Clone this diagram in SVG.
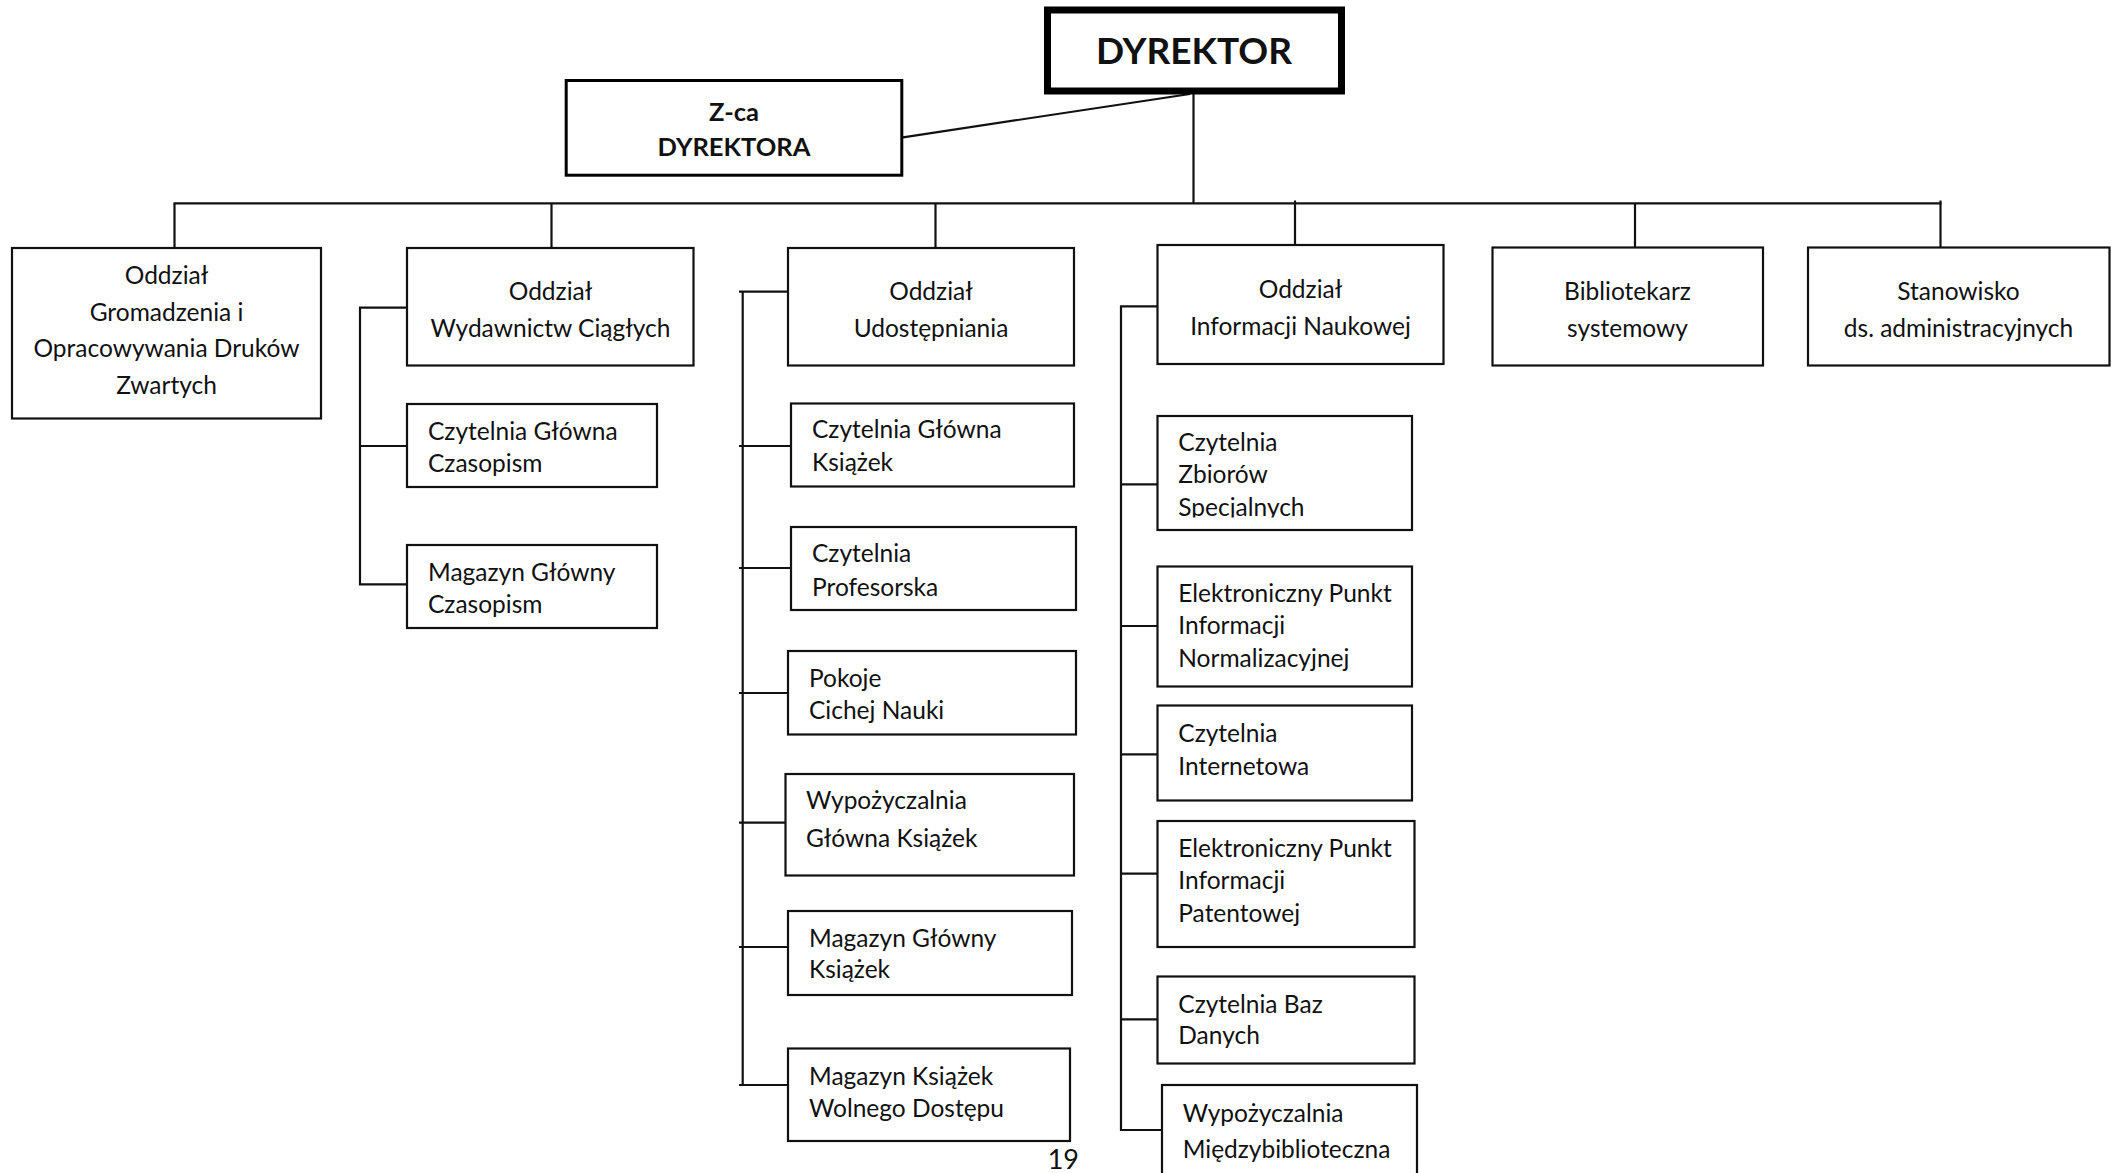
<svg xmlns="http://www.w3.org/2000/svg" width="2114" height="1173" viewBox="0 0 2114 1173">
<style>
.bg{fill:#ffffff}
.box{fill:#ffffff;stroke:#111;stroke-width:2.2}
.t{font-family:Lato,"Open Sans","Liberation Sans",sans-serif;font-size:24.5px;fill:#111}
.c{text-anchor:middle}
.b{font-weight:bold}
.ln{fill:none;stroke:#111;stroke-width:2.2}
</style>
<defs>
<clipPath id="clipZb"><rect x="1158" y="417" width="252" height="100.5"/></clipPath>
</defs>
<rect class="bg" x="0" y="0" width="2114" height="1173"/>

<g id="connectors">
<line class="ln" x1="903" y1="137.3" x2="1190" y2="94" stroke-width="2.6"/>
<line class="ln" x1="1193.5" y1="94" x2="1193.5" y2="203.3" stroke-width="1.6"/>
<line class="ln" x1="173.5" y1="203.3" x2="1941.5" y2="203.3"/>
<line class="ln" x1="174.5" y1="203.3" x2="174.5" y2="248"/>
<line class="ln" x1="551.5" y1="203.3" x2="551.5" y2="248"/>
<line class="ln" x1="935.5" y1="203.3" x2="935.5" y2="248"/>
<line class="ln" x1="1295" y1="200.5" x2="1295" y2="245"/>
<line class="ln" x1="1635" y1="203.3" x2="1635" y2="248"/>
<line class="ln" x1="1940.5" y1="200.5" x2="1940.5" y2="248"/>
<!-- Wydawnictw bracket -->
<polyline class="ln" points="407,307.7 360,307.7 360,584.3 407,584.3"/>
<line class="ln" x1="360" y1="446" x2="407" y2="446"/>
<!-- Udostepniania bracket -->
<line class="ln" x1="742.7" y1="291.7" x2="742.7" y2="1085"/>
<line class="ln" x1="739" y1="291.7" x2="788" y2="291.7"/>
<line class="ln" x1="739" y1="446" x2="791" y2="446"/>
<line class="ln" x1="739" y1="568" x2="791" y2="568"/>
<line class="ln" x1="739" y1="693" x2="788" y2="693"/>
<line class="ln" x1="739" y1="822.7" x2="791.7" y2="822.7"/>
<line class="ln" x1="739" y1="947" x2="788" y2="947"/>
<line class="ln" x1="739" y1="1085" x2="788" y2="1085"/>
<!-- Informacji bracket -->
<polyline class="ln" points="1157.5,306.3 1121,306.3 1121,1130 1162,1130"/>
<line class="ln" x1="1121" y1="484.3" x2="1157.5" y2="484.3"/>
<line class="ln" x1="1121" y1="626" x2="1157.5" y2="626"/>
<line class="ln" x1="1121" y1="754.3" x2="1157.5" y2="754.3"/>
<line class="ln" x1="1121" y1="873.7" x2="1157.5" y2="873.7"/>
<line class="ln" x1="1121" y1="1019.3" x2="1157.5" y2="1019.3"/>
</g>

<g id="dyrektor">
<rect x="1047.5" y="10" width="294" height="81" fill="#fff" stroke="#000" stroke-width="7"/>
<text class="t c b" x="1194" y="63.5" style="font-size:37px">DYREKTOR</text>
</g>

<g id="zastepca">
<rect x="566.2" y="80.5" width="335.6" height="94.7" fill="#fff" stroke="#000" stroke-width="3"/>
<text class="t c b" x="734" y="121" style="font-size:25.5px">Z-ca</text>
<text class="t c b" x="734" y="156" style="font-size:25.5px">DYREKTORA</text>
</g>

<g id="gromadzenie">
<rect class="box" x="12" y="248" width="309" height="170.5"/>
<text class="t c" x="166.5" y="284">Oddział</text>
<text class="t c" x="166.5" y="320.5">Gromadzenia i</text>
<text class="t c" x="166.5" y="357">Opracowywania Druków</text>
<text class="t c" x="166.5" y="394">Zwartych</text>
</g>

<g id="wydawnictw">
<rect class="box" x="407" y="248" width="286.5" height="117.5"/>
<text class="t c" x="550.5" y="299.5">Oddział</text>
<text class="t c" x="550.5" y="336.5">Wydawnictw Ciągłych</text>
</g>

<g id="czytelnia-czasopism">
<rect class="box" x="407" y="404" width="250" height="83"/>
<text class="t" x="428" y="439.5">Czytelnia Główna</text>
<text class="t" x="428" y="472">Czasopism</text>
</g>

<g id="magazyn-czasopism">
<rect class="box" x="407" y="545" width="250" height="83"/>
<text class="t" x="428" y="581">Magazyn Główny</text>
<text class="t" x="428" y="613">Czasopism</text>
</g>

<g id="udostepniania">
<rect class="box" x="788" y="248" width="286" height="117.5"/>
<text class="t c" x="931" y="300">Oddział</text>
<text class="t c" x="931" y="336.7">Udostępniania</text>
</g>

<g id="czytelnia-ksiazek">
<rect class="box" x="791" y="403.5" width="283" height="83"/>
<text class="t" x="812" y="438">Czytelnia Główna</text>
<text class="t" x="812" y="470.7">Książek</text>
</g>

<g id="czytelnia-profesorska">
<rect class="box" x="791" y="527" width="285" height="83"/>
<text class="t" x="812" y="562">Czytelnia</text>
<text class="t" x="812" y="595.7">Profesorska</text>
</g>

<g id="pokoje">
<rect class="box" x="788" y="651" width="288" height="83.5"/>
<text class="t" x="809" y="686.7">Pokoje</text>
<text class="t" x="809" y="719">Cichej Nauki</text>
</g>

<g id="wypozyczalnia-glowna">
<rect class="box" x="785.5" y="774" width="288.5" height="101.5"/>
<text class="t" x="806" y="809.3">Wypożyczalnia</text>
<text class="t" x="806" y="846.7">Główna Książek</text>
</g>

<g id="magazyn-ksiazek">
<rect class="box" x="788" y="911" width="284" height="84"/>
<text class="t" x="809" y="946.7">Magazyn Główny</text>
<text class="t" x="809" y="978.3">Książek</text>
</g>

<g id="wolny-dostep">
<rect class="box" x="788" y="1048.5" width="282" height="92.5"/>
<text class="t" x="809" y="1085">Magazyn Książek</text>
<text class="t" x="809" y="1116.7">Wolnego Dostępu</text>
</g>

<g id="informacji">
<rect class="box" x="1157.5" y="245" width="286" height="119"/>
<text class="t c" x="1300.5" y="298.3">Oddział</text>
<text class="t c" x="1300.5" y="335">Informacji Naukowej</text>
</g>

<g id="zbiory-specjalne">
<rect class="box" x="1157.5" y="416" width="254.5" height="114"/>
<g clip-path="url(#clipZb)">
<text class="t" x="1178.3" y="451">Czytelnia</text>
<text class="t" x="1178.3" y="483.3">Zbiorów</text>
<text class="t" x="1178.3" y="516">Specjalnych</text>
</g>
</g>

<g id="normalizacyjnej">
<rect class="box" x="1157.5" y="566.5" width="254.5" height="120"/>
<text class="t" x="1178.3" y="601.7">Elektroniczny Punkt</text>
<text class="t" x="1178.3" y="634.3">Informacji</text>
<text class="t" x="1178.3" y="666.7">Normalizacyjnej</text>
</g>

<g id="internetowa">
<rect class="box" x="1157.5" y="705.5" width="254.5" height="95"/>
<text class="t" x="1178.3" y="741.7">Czytelnia</text>
<text class="t" x="1178.3" y="775">Internetowa</text>
</g>

<g id="patentowej">
<rect class="box" x="1157.5" y="821" width="257" height="126"/>
<text class="t" x="1178.3" y="856.7">Elektroniczny Punkt</text>
<text class="t" x="1178.3" y="889">Informacji</text>
<text class="t" x="1178.3" y="921.7">Patentowej</text>
</g>

<g id="bazy-danych">
<rect class="box" x="1157.5" y="976.5" width="257" height="87"/>
<text class="t" x="1178.3" y="1012.7">Czytelnia Baz</text>
<text class="t" x="1178.3" y="1044.3">Danych</text>
</g>

<g id="miedzybiblioteczna">
<rect class="box" x="1162" y="1085" width="255" height="110"/>
<text class="t" x="1182.7" y="1121.7">Wypożyczalnia</text>
<text class="t" x="1182.7" y="1158.3">Międzybiblioteczna</text>
</g>

<g id="bibliotekarz">
<rect class="box" x="1492.5" y="247.5" width="270.5" height="118"/>
<text class="t c" x="1627.5" y="300">Bibliotekarz</text>
<text class="t c" x="1627.5" y="336.7">systemowy</text>
</g>

<g id="stanowisko">
<rect class="box" x="1808" y="247.5" width="301.5" height="118"/>
<text class="t c" x="1958.5" y="300">Stanowisko</text>
<text class="t c" x="1958.5" y="336.7">ds. administracyjnych</text>
</g>

<text class="t" x="1047.7" y="1169" style="font-size:27px">19</text>
</svg>
